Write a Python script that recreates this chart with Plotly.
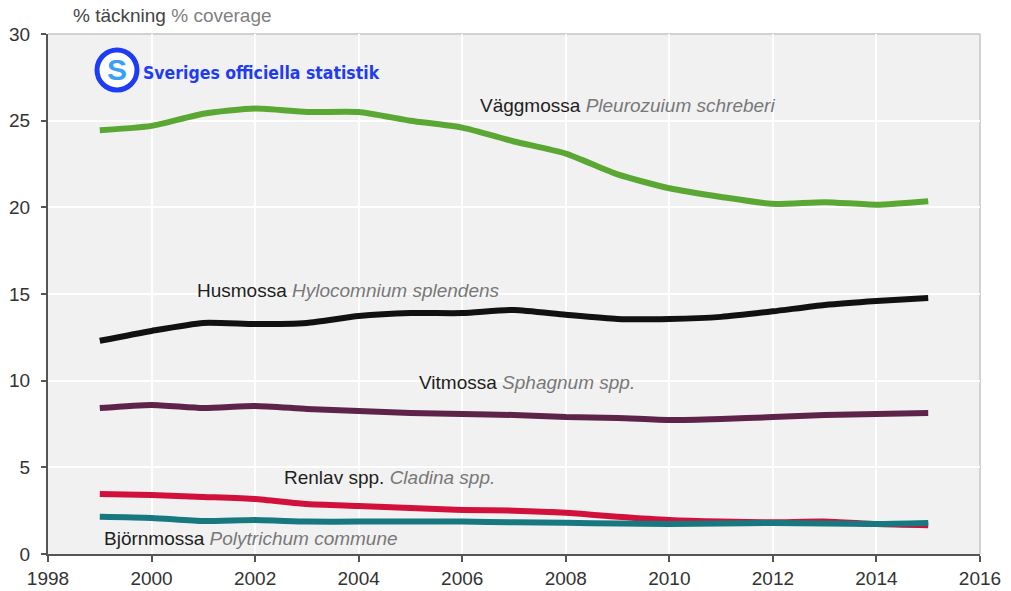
import plotly.graph_objects as go

# Survey years
years = list(range(1999, 2016))

# Percentage ground coverage per species group
vaggmossa = [24.45, 24.7, 25.4, 25.7, 25.5, 25.5, 25.0, 24.6, 23.8, 23.1, 21.9, 21.1, 20.6, 20.2, 20.3, 20.15, 20.35]
husmossa = [12.3, 12.87, 13.33, 13.27, 13.33, 13.73, 13.9, 13.9, 14.08, 13.8, 13.56, 13.56, 13.68, 14.0, 14.37, 14.6, 14.77]
vitmossa = [8.42, 8.6, 8.42, 8.54, 8.37, 8.25, 8.14, 8.08, 8.02, 7.9, 7.85, 7.73, 7.79, 7.9, 8.02, 8.08, 8.14]
renlav = [3.46, 3.4, 3.29, 3.17, 2.88, 2.77, 2.65, 2.54, 2.5, 2.38, 2.15, 1.96, 1.87, 1.83, 1.88, 1.73, 1.66]
bjornmossa = [2.15, 2.08, 1.9, 1.96, 1.87, 1.87, 1.87, 1.87, 1.83, 1.8, 1.76, 1.73, 1.76, 1.79, 1.76, 1.73, 1.79]

# Common (Swedish) and scientific names
common_names = ["Väggmossa", "Husmossa", "Vitmossa", "Renlav spp.", "Björnmossa"]
latin_names = ["Pleurozuium schreberi", "Hylocomnium splendens", "Sphagnum spp.", "Cladina spp.", "Polytrichum commune"]

x_ticks = list(range(1998, 2017, 2))
y_ticks = list(range(0, 31, 5))

series = [vaggmossa, husmossa, vitmossa, renlav, bjornmossa]
colors = ["#5aa833", "#111111", "#5e2348", "#d2103c", "#17797f"]
# label anchor (year, value) for each series name
label_pos = [(2006.3, 25.9), (2000.84, 15.18), (2005.12, 9.92), (2002.51, 4.44), (1999.04, 0.92)]

FONT = "Liberation Sans, Arial, sans-serif"
W, H = 1011, 591
ml, mr, mt, mb = 48, 31, 34, 37


def to_paper(px, py):
    return (px - ml) / (W - ml - mr), 1 - (py - mt) / (H - mt - mb)


fig = go.Figure()
for vals, col, name in zip(series, colors, common_names):
    fig.add_trace(go.Scatter(
        x=years, y=vals, mode="lines", name=name,
        line=dict(color=col, width=6, shape="spline", smoothing=0.6),
        hoverinfo="x+y+name",
    ))

annotations = []
for (lx, ly), cname, lname in zip(label_pos, common_names, latin_names):
    annotations.append(dict(
        x=lx, y=ly, xref="x", yref="y", xanchor="left", yanchor="middle",
        showarrow=False,
        text=f"<span style='color:#1e1e1e'>{cname}</span> "
             f"<i><span style='color:#787878'>{lname}</span></i>",
        font=dict(family=FONT, size=19),
    ))

# axis title above the plot
tx, ty = to_paper(71, 16)
annotations.append(dict(
    x=tx, y=ty, xref="paper", yref="paper", showarrow=False,
    xanchor="left", yanchor="middle",
    text="<span style='color:#444'>% täckning</span> <span style='color:#808080'>% coverage</span>",
    font=dict(family=FONT, size=19),
))
# logo wordmark
lx_, ly_ = to_paper(141, 73)
annotations.append(dict(
    x=lx_, y=ly_, xref="paper", yref="paper", showarrow=False,
    xanchor="left", yanchor="middle",
    text="<b>Sveriges officiella statistik</b>",
    font=dict(family="DejaVu Sans Condensed, Roboto Condensed, Roboto, " + FONT,
              size=17.5, color="#1f3cf5"),
))
sx, sy = to_paper(117, 70)
annotations.append(dict(
    x=sx, y=sy, xref="paper", yref="paper", showarrow=False,
    xanchor="center", yanchor="middle",
    text="<b>S</b>",
    font=dict(family=FONT, size=30, color="#3aa0f5"),
))

cx0, cy0 = to_paper(97, 50)
cx1, cy1 = to_paper(137, 90)

tickfont = dict(family=FONT, size=19, color="#333")

fig.update_layout(
    width=W, height=H,
    margin=dict(l=ml, r=mr, t=mt, b=mb, autoexpand=False),
    paper_bgcolor="white",
    plot_bgcolor="#f1f1f1",
    showlegend=False,
    annotations=annotations,
    shapes=[
        dict(type="circle", xref="paper", yref="paper", x0=cx0, y0=cy1, x1=cx1, y1=cy0,
             line=dict(color="#1f3cf5", width=5), fillcolor="white", layer="above"),
        # light frame on the top and right of the plot area
        dict(type="line", xref="paper", yref="paper", x0=0, x1=1, y0=1, y1=1,
             line=dict(color="#c4c4c4", width=1.5), layer="below"),
        dict(type="line", xref="paper", yref="paper", x0=1, x1=1, y0=0, y1=1,
             line=dict(color="#c4c4c4", width=1.5), layer="below"),
    ],
    xaxis=dict(
        range=[1998, 2016], tickvals=x_ticks, ticktext=[str(t) for t in x_ticks],
        showgrid=True, gridcolor="white", gridwidth=2, zeroline=False,
        showline=True, linecolor="#555", linewidth=2, automargin=False,
        ticks="outside", ticklen=6, tickwidth=2, tickcolor="#555",
        tickfont=tickfont,
    ),
    yaxis=dict(
        range=[0, 30], tickvals=y_ticks,
        showgrid=True, gridcolor="white", gridwidth=2, zeroline=False,
        showline=True, linecolor="#555", linewidth=2, automargin=False,
        ticks="outside", ticklen=5, tickwidth=2, tickcolor="#555",
        ticklabelstandoff=7,
        tickfont=tickfont,
    ),
)

fig.write_html("out.html")
